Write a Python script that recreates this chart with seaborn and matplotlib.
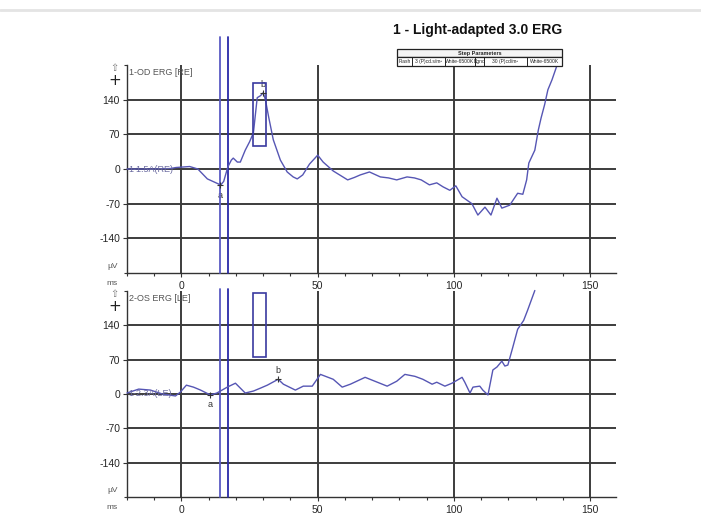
import pandas as pd
import seaborn as sns
import matplotlib
matplotlib.use("Agg")
import matplotlib.pyplot as plt
from matplotlib.patches import Rectangle
from matplotlib.lines import Line2D

# waveform, right eye (top panel)
ms_re = [-20, -10, -4, -2, 3, 6, 9.5, 13.5, 14.3, 15.5, 17, 18.3, 19, 20.5, 21.6, 23.4, 25, 26.4,
         27.8, 29, 30, 30.8, 32, 33.7, 36.3, 38.8, 41, 42.5, 44.5, 47, 50, 52, 55.7, 61, 63.5,
         65.6, 69, 73, 76, 79, 82.8, 85.5, 88, 91, 93.7, 96, 98.5, 100.7, 103, 106.6, 108.8,
         111.4, 113.6, 115.8, 117.6, 120.5, 123.4, 125.3, 126.7, 127.5, 129.7, 131, 132, 133.3,
         134.5, 136, 137.7, 138.5]
uv_re = [0, 0, 1, 3, 5, 0, -20, -30, -33, -25, 4, 18, 22, 14, 14, 38, 55, 73,
         144, 148, 154, 140, 105, 59, 18, -6, -16, -20, -12, 10, 28, 14, -4, -22, -17,
         -12, -6, -16, -18, -22, -16, -18, -22, -32, -28, -36, -43, -34, -56, -70, -93,
         -77, -93, -59, -79, -73, -49, -51, -22, 12, 38, 79, 103, 130,
         160, 180, 207, 225]

# waveform, left eye (bottom panel)
ms_le = [-20, -15.7, -11.4, -7, -2.2, -0.4, 1.8, 4.4, 7, 10.6, 13, 16.8, 19.8, 23.4, 26.4, 29,
         31.5, 35.5, 37.4, 41.8, 44.7, 48, 51, 55.7, 59, 62, 67.4, 71, 75.5, 79, 82, 85.7,
         88.6, 92, 93.7, 96.7, 99.3, 103, 104, 105.9, 107, 109.5, 110.6, 112.5, 114.3, 115.8,
         117.6, 118.7, 119.8, 121.6, 123.4, 125.6, 127, 129.7]
uv_le = [2, 10, 8, 0, -4, 4, 18, 14, 8, -2, 2, 14, 22, 2, 6, 12,
         18, 30, 20, 8, 16, 16, 40, 30, 14, 20, 34, 26, 16, 26, 40, 36,
         30, 20, 24, 16, 22, 34, 24, 2, 14, 16, 8, -2, 49, 55,
         67, 57, 59, 95, 132, 150, 170, 211]

# a / b markers
a_re = (14.3, -33)
b_re = (30, 154)
a_le = (10.6, -2)
b_le = (35.5, 30)

# cursors and b windows
cursors = [14.3, 17.2]
bwin_re = (26.4, 31.1, 47, 174)
bwin_le = (26.4, 31.1, 75, 205)

y_ticks = [-140, -70, 0, 70, 140]
x_ticks = [0, 50, 100, 150]

title = "1 - Light-adapted 3.0 ERG"
step_row = ["Flash", "3 (P)cd.s/m\u00b2", "White-6500K", "Bgnd", "30 (P)cd/m\u00b2", "White-6500K"]

sns.set_style("white")
plt.rcParams["font.family"] = ["Liberation Sans", "DejaVu Sans"]
plt.rcParams["axes.unicode_minus"] = False

W, H = 701, 518
fig = plt.figure(figsize=(W / 100, H / 100), dpi=100)
fig.patch.set_facecolor("white")

def fx(px):
    return px / W

def fy(px):
    return 1 - px / H

WAVE = "#5656b4"
GRID = "#3c3c3c"

def panel(rect, ms, uv, a, b, bwin, name, base_lbl, cursor_top):
    ax = fig.add_axes(rect)
    df = pd.DataFrame({"ms": ms, "uv": uv})
    sns.lineplot(data=df, x="ms", y="uv", ax=ax, color=WAVE, lw=1.0,
                 sort=False, estimator=None, clip_on=False, zorder=5)
    ax.set_xlim(-20, 159.5)
    ax.set_ylim(-210, 210)
    ax.set_xlabel("")
    ax.set_ylabel("")
    ax.set_xticks(x_ticks)
    ax.set_xticks(range(-20, 160, 10), minor=True)
    ax.set_yticks(y_ticks)
    ax.set_yticks([-210, 210], minor=True)
    ax.tick_params(axis="both", which="both", bottom=True, left=True, direction="out",
                   color="#333333", width=0.8)
    ax.tick_params(axis="both", which="major", labelsize=7.5, length=3, pad=2)
    ax.tick_params(axis="both", which="minor", length=2.5)
    ax.tick_params(axis="x", which="major", pad=3)
    ax.grid(True, which="major", color=GRID, lw=1.4)
    for s in ["top", "right"]:
        ax.spines[s].set_visible(False)
    for s in ["left", "bottom"]:
        ax.spines[s].set_color("#333333")
        ax.spines[s].set_linewidth(1.0)

    # cursors
    ax.plot([cursors[0]] * 2, [-210, cursor_top], color="#5a5ac4", lw=1.3, clip_on=False, zorder=4)
    ax.plot([cursors[1]] * 2, [-210, cursor_top], color="#2a2aa8", lw=1.3, clip_on=False, zorder=4)

    # b window
    x0, x1, y0, y1 = bwin
    ax.add_patch(Rectangle((x0, y0), x1 - x0, y1 - y0, fill=False, ec="#3a3aa0", lw=1.2, zorder=6))

    # a / b markers
    ax.plot(*a, marker="+", ms=4, mew=0.8, color="#333333", zorder=7)
    ax.annotate("a", a, xytext=(0, -7), textcoords="offset points", ha="center",
                va="center", fontsize=6.5, color="#333333")
    ax.plot(*b, marker="+", ms=4, mew=0.8, color="#333333", zorder=7)
    ax.annotate("b", b, xytext=(0, 6), textcoords="offset points", ha="center",
                va="center", fontsize=6.5, color="#333333")

    ax.text(0.004, 0.985, name, transform=ax.transAxes, fontsize=6.5, color="#555555",
            ha="left", va="top")
    ax.text(-19.6, 0, base_lbl, fontsize=6.5, color="#6a6aa0", ha="left", va="center", zorder=6)
    ax.text(-0.025, 0.985, "\u21e7", transform=ax.transAxes, fontsize=7, color="#777777",
            ha="center", va="center", family="DejaVu Sans")
    ax.text(-0.025, 0.925, "+", transform=ax.transAxes, fontsize=11, color="#222222",
            ha="center", va="center", family="DejaVu Sans")
    ax.text(-0.03, 0.03, "\u00b5V", transform=ax.transAxes, fontsize=6, color="#555555",
            ha="center", va="center")
    ax.text(-0.03, -0.05, "ms", transform=ax.transAxes, fontsize=6, color="#555555",
            ha="center", va="center")
    return ax

panel([fx(127), fy(273), fx(616) - fx(127), fy(65) - fy(273)], ms_re, uv_re, a_re, b_re,
      bwin_re, "1-OD ERG [RE]", "1-1.5A(RE)", 266)
panel([fx(127), fy(497), fx(616) - fx(127), fy(291) - fy(497)], ms_le, uv_le, a_le, b_le,
      bwin_le, "2-OS ERG [LE]", "1-2.3A(LE)", 214)

# top border line
fig.add_artist(Line2D([0, 1], [fy(10), fy(10)], color="#e4e4e4", lw=2))

fig.text(fx(478), fy(30), title, fontsize=10, fontweight="bold", ha="center", va="center",
         color="#111111")

# step parameters table
edges = [397, 412, 445, 475, 484, 527, 562]
tax = fig.add_axes([0, 0, 1, 1], zorder=10)
tax.set_xlim(0, W)
tax.set_ylim(H, 0)
tax.axis("off")
tax.add_patch(Rectangle((397, 49), 165, 8, fc="#f4f4f4", ec="#222222", lw=0.9))
tax.add_patch(Rectangle((397, 57), 165, 8.5, fc="white", ec="#222222", lw=0.9))
tax.text(479.5, 53, "Step Parameters", fontsize=4, fontweight="bold", ha="center", va="center")
for i, lbl in enumerate(step_row):
    if i > 0:
        tax.plot([edges[i]] * 2, [57, 65.5], color="#222222", lw=0.7)
    tax.text((edges[i] + edges[i + 1]) / 2, 61.3, lbl, fontsize=3.6, ha="center", va="center")

fig.savefig("out.png", dpi=100, facecolor="white")
